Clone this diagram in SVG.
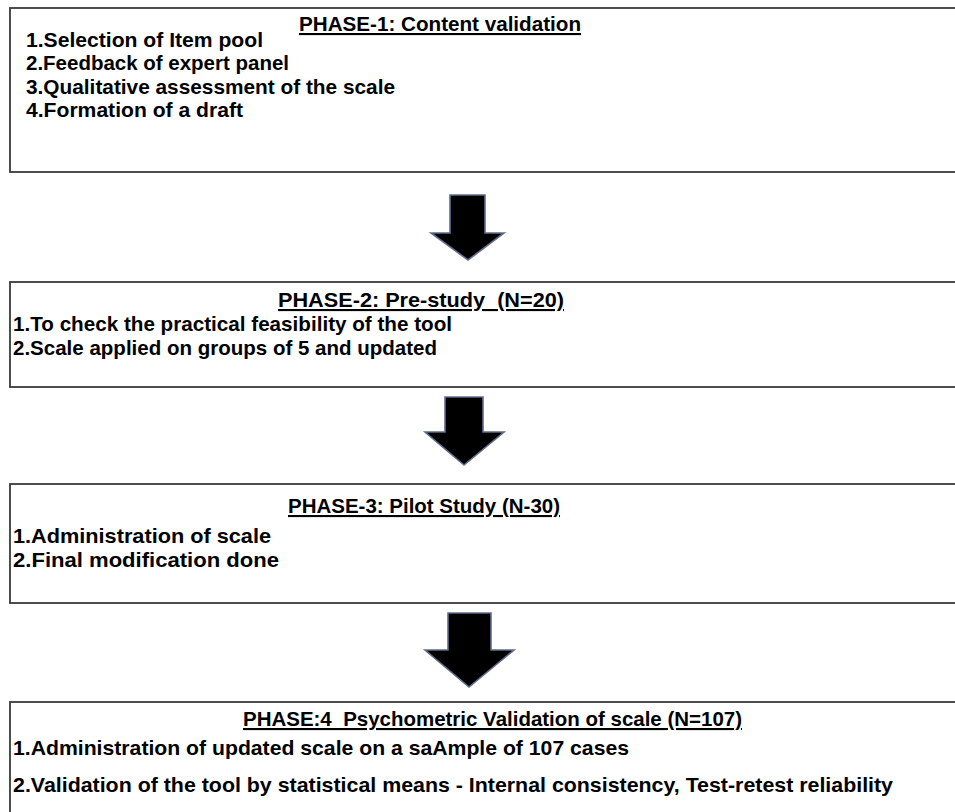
<svg xmlns="http://www.w3.org/2000/svg" width="955" height="812" viewBox="0 0 955 812">
<style>
.box{fill:#ffffff;stroke:#3a3a3a;stroke-width:1.8}
.t{font-family:"Liberation Sans",Arial,sans-serif;font-weight:bold;font-size:21px;fill:#000}
.h{text-decoration:underline}
.arr{fill:#000;stroke:#5f6d8c;stroke-width:1.6;stroke-linejoin:miter}
</style>
<rect width="955" height="812" fill="#fff"/>
<g id="phase1">
<rect class="box" x="10" y="8" width="960" height="164"/>
<text class="t h" x="299" y="31" textLength="282" lengthAdjust="spacingAndGlyphs">PHASE-1: Content validation</text>
<text class="t" x="26" y="47" textLength="237" lengthAdjust="spacingAndGlyphs">1.Selection of Item pool</text>
<text class="t" x="26" y="70" textLength="263" lengthAdjust="spacingAndGlyphs">2.Feedback of expert panel</text>
<text class="t" x="26" y="94" textLength="369" lengthAdjust="spacingAndGlyphs">3.Qualitative assessment of the scale</text>
<text class="t" x="26" y="117" textLength="217" lengthAdjust="spacingAndGlyphs">4.Formation of a draft</text>
</g>
<g id="phase2">
<rect class="box" x="10" y="282" width="960" height="105"/>
<text class="t h" x="278" y="307" textLength="286" lengthAdjust="spacingAndGlyphs" xml:space="preserve">PHASE-2: Pre-study  (N=20)</text>
<text class="t" x="13" y="331" textLength="439" lengthAdjust="spacingAndGlyphs">1.To check the practical feasibility of the tool</text>
<text class="t" x="13" y="355" textLength="424" lengthAdjust="spacingAndGlyphs">2.Scale applied on groups of 5 and updated</text>
</g>
<g id="phase3">
<rect class="box" x="10" y="484" width="960" height="119"/>
<text class="t h" x="288" y="513" textLength="272" lengthAdjust="spacingAndGlyphs">PHASE-3: Pilot Study (N-30)</text>
<text class="t" x="13" y="543" textLength="258" lengthAdjust="spacingAndGlyphs">1.Administration of scale</text>
<text class="t" x="13" y="567" textLength="266" lengthAdjust="spacingAndGlyphs">2.Final modification done</text>
</g>
<g id="phase4">
<rect class="box" x="10" y="702" width="960" height="130"/>
<text class="t h" x="243" y="726" textLength="499" lengthAdjust="spacingAndGlyphs" xml:space="preserve">PHASE:4  Psychometric Validation of scale (N=107)</text>
<text class="t" x="13" y="755" textLength="616" lengthAdjust="spacingAndGlyphs">1.Administration of updated scale on a saAmple of 107 cases</text>
<text class="t" x="13" y="792" textLength="880" lengthAdjust="spacingAndGlyphs">2.Validation of the tool by statistical means - Internal consistency, Test-retest reliability</text>
</g>
<g id="connectors">
<polygon class="arr" points="450,195 485,195 485,233 504,233 468,260 431,233 450,233"/>
<polygon class="arr" points="445,397 483,397 483,432 504,432 464,465 425,432 445,432"/>
<polygon class="arr" points="448,613 491,613 491,650 514,650 469,687 425,650 448,650"/>
</g>
</svg>
